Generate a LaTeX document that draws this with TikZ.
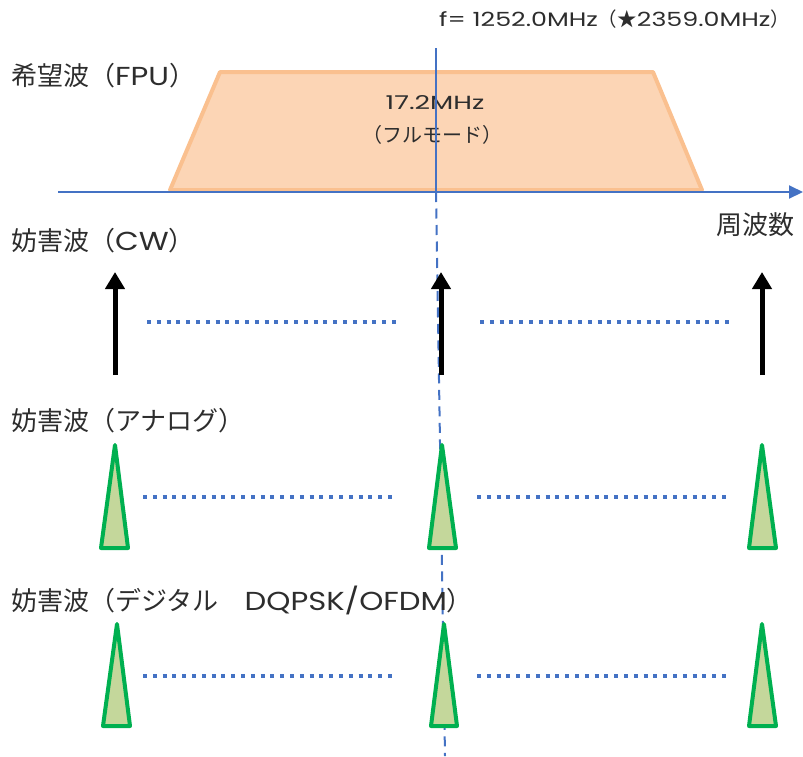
\documentclass[tikz,border=0pt]{standalone}
\usepackage{fontspec}
\setmainfont{Noto Sans CJK JP}
\newfontfamily\latinfont{Poppins}[FakeStretch=1.18]
\newfontfamily\widefont{Poppins}[FakeStretch=1.42]
\newfontfamily\toplatin{Poppins}[FakeStretch=1.3]
\newcommand{\lat}[1]{{\latinfont #1}}
\newcommand{\wlat}[1]{{\widefont #1}}
\newcommand{\tlat}[1]{{\toplatin #1}}
\usetikzlibrary{arrows.meta}
\definecolor{axisblue}{RGB}{68,114,196}
\definecolor{fpufill}{RGB}{252,213,181}
\definecolor{fpuline}{RGB}{250,192,143}
\definecolor{sigline}{RGB}{0,176,80}
\definecolor{sigfill}{RGB}{196,215,155}
\definecolor{textgray}{RGB}{45,45,45}
\tikzstyle{waveName} = [
 anchor = west,
 inner sep = 0pt,
 text = textgray,
 font = \fontsize{26}{30}\selectfont
]
\tikzstyle{bandText} = [
 inner sep = 0pt,
 text = textgray,
 font = \fontsize{19}{22}\selectfont
]
\tikzstyle{fpuBand} = [
 draw = fpuline,
 fill = fpufill,
 line width = 4pt,
 line join = round
]
\tikzstyle{freqAxis} = [
 draw = axisblue,
 line width = 2pt,
 -{Triangle[length=14pt,width=13pt]}
]
\tikzstyle{centerLine} = [
 draw = axisblue,
 line width = 2pt
]
\tikzstyle{centerDash} = [
 centerLine,
 dash pattern = on 10pt off 6.5pt
]
\tikzstyle{cwArrow} = [
 draw = black,
 line width = 5pt,
 -{Triangle[length=17pt,width=19pt]}
]
\tikzstyle{gapDots} = [
 draw = axisblue,
 line width = 4pt,
 dash pattern = on 4pt off 5.8pt
]
\tikzstyle{interfTri} = [
 draw = sigline,
 fill = sigfill,
 line width = 4pt,
 line join = round
]

\begin{document}
\begin{tikzpicture}[x=1pt, y=-1pt]
  \useasboundingbox (0,0) rectangle (803,756);
  % desired wave
  \coordinate (fpuBL) at (170,190);
  \coordinate (fpuTL) at (220,72);
  \coordinate (fpuTR) at (653,72);
  \coordinate (fpuBR) at (702,190);
  \filldraw [fpuBand] (fpuBL) -- (fpuTL) -- (fpuTR) -- (fpuBR) -- cycle;
  \node [bandText] (bw) at (435,103) {\wlat{17.2MHz}};
  \node [bandText, font=\fontsize{20}{24}\selectfont] (mode) at (432,135) {（フルモード）};
  % axis and centre frequency
  \coordinate (axL) at (58,192);
  \coordinate (axR) at (803,192);
  \draw [freqAxis] (axL) -- (axR);
  \coordinate (fcTop) at (436,48);
  \coordinate (fcAx) at (436,192);
  \coordinate (fcEnd) at (445,756);
  \draw [centerLine] (fcTop) -- (fcAx);
  \draw [centerDash] (fcAx) -- (fcEnd);
  \node [waveName, font=\fontsize{19.5}{24}\selectfont] (fc) at (439,19) {\tlat{f= 1252.0MHz}（★\tlat{2359.0MHz}）};
  \node [waveName, anchor=east] (fq) at (795,225) {周波数};
  \node [waveName] (fpu) at (11,76) {希望波（\lat{FPU}）};
  % CW
  \node [waveName] (cw) at (11,241) {妨害波（\lat{CW}）};
  \coordinate (cwA0) at (115,375);
  \coordinate (cwA1) at (115,272);
  \coordinate (cwB0) at (441,375);
  \coordinate (cwB1) at (441,272);
  \coordinate (cwC0) at (762,375);
  \coordinate (cwC1) at (762,272);
  \draw [cwArrow] (cwA0) -- (cwA1);
  \draw [cwArrow] (cwB0) -- (cwB1);
  \draw [cwArrow] (cwC0) -- (cwC1);
  \coordinate (cwD0) at (147,322);
  \coordinate (cwD1) at (397,322);
  \coordinate (cwD2) at (480,322);
  \coordinate (cwD3) at (730,322);
  \draw [gapDots] (cwD0) -- (cwD1);
  \draw [gapDots] (cwD2) -- (cwD3);
  % analog
  \node [waveName] (ana) at (11,421) {妨害波（アナログ）};
  \filldraw [interfTri] (101,548) -- (115,445) -- (128,548) -- cycle;
  \filldraw [interfTri] (429,548) -- (442,445) -- (456,548) -- cycle;
  \filldraw [interfTri] (749,548) -- (762,445) -- (776,548) -- cycle;
  \coordinate (anD0) at (143,497);
  \coordinate (anD1) at (395,497);
  \coordinate (anD2) at (477,497);
  \coordinate (anD3) at (728,497);
  \draw [gapDots] (anD0) -- (anD1);
  \draw [gapDots] (anD2) -- (anD3);
  % digital
  \node [waveName] (dig) at (11,600) {妨害波（デジタル　\lat{DQPSK/OFDM}）};
  \filldraw [interfTri] (103,726) -- (117,624) -- (130,726) -- cycle;
  \filldraw [interfTri] (431,726) -- (444,624) -- (457,726) -- cycle;
  \filldraw [interfTri] (749,726) -- (762,624) -- (776,726) -- cycle;
  \coordinate (dgD0) at (143,676);
  \coordinate (dgD1) at (395,676);
  \coordinate (dgD2) at (477,676);
  \coordinate (dgD3) at (727,676);
  \draw [gapDots] (dgD0) -- (dgD1);
  \draw [gapDots] (dgD2) -- (dgD3);
\end{tikzpicture}
\end{document}
